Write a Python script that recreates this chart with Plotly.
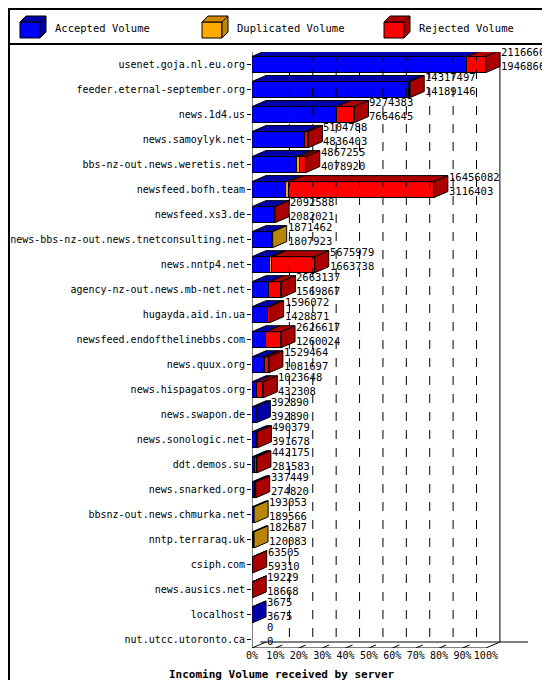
import plotly.graph_objects as go

servers = ["usenet.goja.nl.eu.org", "feeder.eternal-september.org", "news.1d4.us",
           "news.samoylyk.net", "bbs-nz-out.news.weretis.net", "newsfeed.bofh.team",
           "newsfeed.xs3.de", "news-bbs-nz-out.news.tnetconsulting.net", "news.nntp4.net",
           "agency-nz-out.news.mb-net.net", "hugayda.aid.in.ua", "newsfeed.endofthelinebbs.com",
           "news.quux.org", "news.hispagatos.org", "news.swapon.de", "news.sonologic.net",
           "ddt.demos.su", "news.snarked.org", "bbsnz-out.news.chmurka.net", "nntp.terraraq.uk",
           "csiph.com", "news.ausics.net", "localhost", "nut.utcc.utoronto.ca"]
total = [21166608, 14317497, 9274383, 5104788, 4867255, 16456082, 2092588, 1871462,
         5675979, 2663137, 1596072, 2626617, 1529464, 1023648, 392890, 490379, 442175,
         337449, 193053, 182687, 63505, 19229, 3675, 0]
accepted = [19468667, 14189146, 7664645, 4836403, 4078920, 3116403, 2082021, 1807923,
            1663738, 1569867, 1428871, 1260024, 1081697, 432308, 392890, 391678, 281583,
            274820, 189566, 120083, 59310, 18668, 3675, 0]
duplicated = [0, 0, 0, 0, 270000, 270000, 0, 63539, 180000, 0, 0, 0, 90000, 0, 0, 0, 0,
              0, 3487, 62604, 0, 0, 0, 0]
ticks = [f"{p}%" for p in range(0, 101, 10)]

rejected = [t - a - d for t, a, d in zip(total, accepted, duplicated)]
vmax = max(total)

W, H = 550, 680
L, R, T, B = 244, 30, 44, 40
XR = 118.0
n = len(servers)
YR = [n - 0.68, -0.5]
pxx = (W - L - R) / XR            # px per percent
pxy = (H - T - B) / (YR[0] - YR[1])  # px per row
DX = 14 / pxx
DY = 6 / pxy
BW = 0.64

segs = [("Accepted Volume", accepted, "#0000ff", "#0000aa", "#0000aa"),
        ("Duplicated Volume", duplicated, "#ffaa00", "#cc8800", "#b8860b"),
        ("Rejected Volume", rejected, "#ff0000", "#aa0000", "#aa0000")]

fig = go.Figure()
shapes = []
annotations = []


def px(a, b):
    # pixel position -> paper coords (paper is the plot area)
    return (a - L) / (W - L - R), (H - B - b) / (H - T - B)


def poly(pts, fill, paper=False):
    if paper:
        pts = [px(a, b) for a, b in pts]
        ref = "paper"
    else:
        ref = None
    path = "M " + " L ".join(f"{a},{b}" for a, b in pts) + " Z"
    shapes.append(dict(type="path", path=path, xref=ref or "x", yref=ref or "y",
                       fillcolor=fill, line=dict(color="black", width=1), layer="above"))


def line(x0, y0, x1, y1, dash="solid"):
    shapes.append(dict(type="line", x0=x0, x1=x1, y0=y0, y1=y1, xref="x", yref="y",
                       line=dict(color="black", width=1, dash=dash)))


# floor and walls
ybot = YR[0]
line(0, -0.5, 0, ybot)
line(0, ybot, 100, ybot)
line(100, ybot, 100 + DX, ybot - DY)
line(0, ybot, DX, ybot - DY)
line(DX * 0.6, ybot - DY, XR, ybot - DY)
line(100 + DX, -0.7, 100 + DX, ybot - DY)
for p in range(10, 100, 10):
    line(p + DX, -0.5, p + DX, ybot - DY, "dash")
    line(p, ybot, p + DX * 0.5, ybot - DY * 0.5)

for i in range(n):
    base = 0.0
    y0, y1 = i - BW / 2, i + BW / 2
    last = None
    for name, vals, front, top, side in segs:
        if vals[i] <= 0:
            continue
        w = vals[i] / vmax * 100
        poly([(base, y0), (base + w, y0), (base + w + DX, y0 - DY), (base + DX, y0 - DY)], top)
        base += w
        last = side
    if last is not None:
        poly([(base, y0), (base + DX, y0 - DY), (base + DX, y1 - DY), (base, y1)], last)
    annotations.append(dict(x=base + DX, y=i - 0.22, xref="x", yref="y", xshift=-1,
                            text=f"{total[i]}<br>{accepted[i]}", showarrow=False,
                            xanchor="left", yanchor="middle", align="left",
                            font=dict(size=10.5, color="black")))

for name, vals, front, top, side in segs:
    fig.add_trace(go.Bar(y=servers, x=[v / vmax * 100 for v in vals], orientation="h",
                         width=BW, marker=dict(color=front, line=dict(color="black", width=1)),
                         name=name, showlegend=False))

# legend on top
for k, (name, vals, front, top, side) in enumerate(segs):
    x0 = 12 + k * 182
    poly([(x0, 14), (x0 + 20, 14), (x0 + 20, 30), (x0, 30)], front, True)
    poly([(x0, 14), (x0 + 6, 8), (x0 + 26, 8), (x0 + 20, 14)], top, True)
    poly([(x0 + 20, 14), (x0 + 26, 8), (x0 + 26, 24), (x0 + 20, 30)], side, True)
    ax, ay = px(x0 + 33, 20)
    annotations.append(dict(x=ax, y=ay, xref="paper", yref="paper",
                            text=name, showarrow=False, xanchor="left", yanchor="middle",
                            font=dict(size=10.5, color="black")))

bx0, by0 = px(1, H - 1)
bx1, by1 = px(W - 1, 1)
shapes.append(dict(type="rect", xref="paper", yref="paper", x0=bx0, x1=bx1, y0=by0, y1=by1,
                   line=dict(color="black", width=2)))
lx0, ly = px(0, 36)
lx1, _ = px(W, 36)
shapes.append(dict(type="line", xref="paper", yref="paper", x0=lx0, x1=lx1, y0=ly, y1=ly,
                   line=dict(color="black", width=2)))

tx, ty = px(274, 666)
annotations.append(dict(x=tx, y=ty, xref="paper", yref="paper",
                        text="<b>Incoming Volume received by server</b>", showarrow=False,
                        xanchor="center", yanchor="middle", font=dict(size=11, color="black")))

fig.update_layout(
    width=W, height=H, margin=dict(l=L, r=R, t=T, b=B),
    barmode="stack", bargap=0, plot_bgcolor="white", paper_bgcolor="white",
    font=dict(family="DejaVu Sans Mono", size=10, color="black"),
    xaxis=dict(range=[0, XR], tickvals=list(range(0, 101, 10)), ticktext=ticks,
               showgrid=False, zeroline=False, ticks="", showline=False, tickangle=0,
               automargin=False, tickfont=dict(size=10)),
    yaxis=dict(range=YR, showgrid=False, zeroline=False, ticks="outside", ticklen=4,
               tickcolor="black", showline=False, automargin=False,
               tickfont=dict(size=10)),
    shapes=shapes, annotations=annotations,
)
fig.write_html("out.html")
